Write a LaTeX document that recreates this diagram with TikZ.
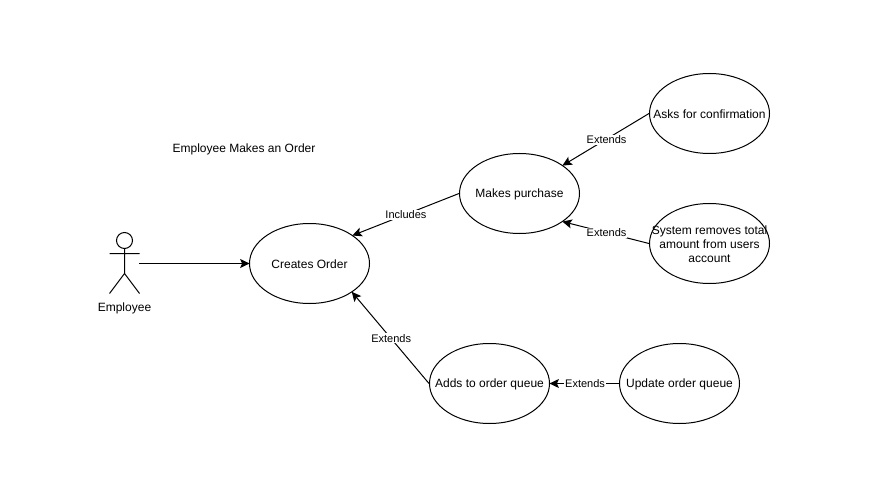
\documentclass[tikz,border=0pt]{standalone}
\usepackage{fontspec}
\setmainfont{Liberation Sans}
\usetikzlibrary{arrows.meta,shapes.geometric}
\tikzset{
  usecase/.style={draw=black,ellipse,line width=1pt,minimum width=120pt,minimum height=80pt,inner sep=0pt,label={[plain,yshift=-0.4pt]center:#1}},
  plain/.style={inner sep=0pt,font=\fontsize{12}{14.4}\selectfont,align=center},
  conn/.style={draw=black,line width=1pt,-{Stealth[length=9.5pt,width=9pt,inset=2pt]},shorten >=-0.6pt},
  lbl/.style={fill=white,inner sep=1pt,yshift=-0.4pt,font=\fontsize{11}{13}\selectfont},
  stick/.style={draw=black,line width=1pt}
}
\begin{document}
\begin{tikzpicture}[x=1pt,y=-1pt]
\useasboundingbox (0,0) rectangle (890,486);
\node[usecase={Creates Order}] (co) at (309.5,263.5) {};
\node[usecase={Makes purchase}] (mp) at (519.5,193.5) {};
\node[usecase={Asks for confirmation}] (ac) at (709.5,113.5) {};
\node[usecase={System removes total\\[-0.5pt]amount from users\\[-0.5pt]account}] (sy) at (709.5,243.5) {};
\node[usecase={Adds to order queue}] (aq) at (489.5,383.5) {};
\node[usecase={Update order queue}] (uq) at (679.5,383.5) {};
\node[plain] (title) at (244,149.3) {Employee Makes an Order};
\node[plain] (emp) at (124.5,308.5) {Employee};
\node[minimum width=29pt,minimum height=60pt,inner sep=0pt] (actor) at (124.5,263.5) {};
\draw[stick] (124.5,240.5) circle (8);
\draw[stick] (124.5,248.5) -- (124.5,273.5) (109.5,253.5) -- (139.5,253.5) (109.5,293.5) -- (124.5,273.5) -- (139.5,293.5);
\draw[conn] (actor.east) -- (co.west);
\draw[conn] (mp.west) -- node[lbl,pos=0.5] (l1) {Includes} (co.33);
\draw[conn] (ac.west) -- node[lbl,pos=0.5,xshift=0.6pt] (l2) {Extends} (mp.33);
\draw[conn] (sy.west) -- node[lbl,pos=0.5,xshift=0.6pt] (l3) {Extends} (mp.-33);
\draw[conn] (aq.west) -- node[lbl,pos=0.5,xshift=0.6pt] (l4) {Extends} (co.-34);
\draw[conn] (uq.west) -- node[lbl,pos=0.5,xshift=0.6pt] (l5) {Extends} (aq.east);
\end{tikzpicture}
\end{document}
